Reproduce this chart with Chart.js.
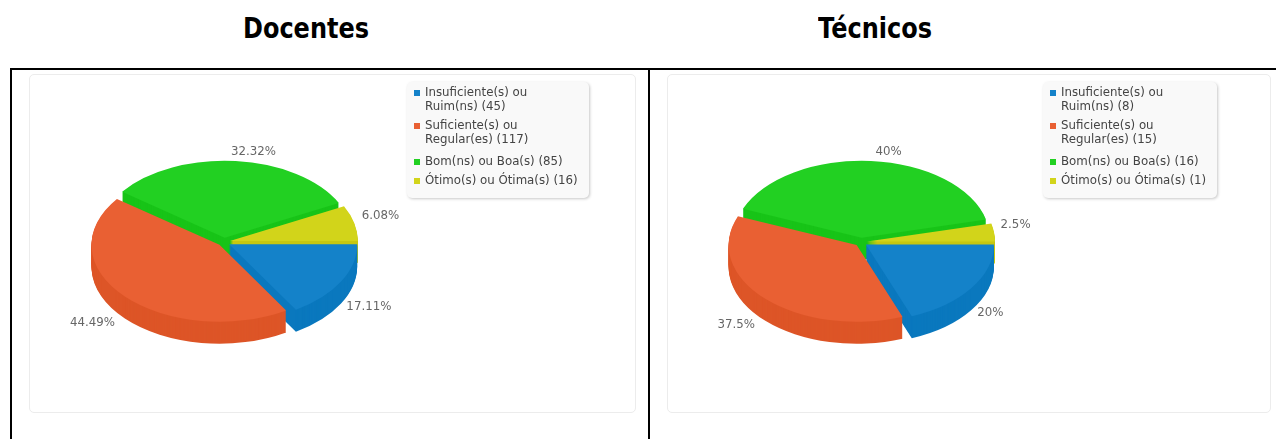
<!DOCTYPE html>
<html lang="pt">
<head>
<meta charset="utf-8">
<title>Docentes e Técnicos</title>
<script src="https://cdn.jsdelivr.net/npm/chart.js@4/dist/chart.umd.min.js"></script>
<style>
  html, body { margin: 0; padding: 0; background: #fff; overflow: hidden; }
  body { position: relative; width: 1276px; height: 439px; }
  .title {
    position: absolute; top: 15px; width: 300px; margin: 0; text-align: center;
    font: bold 24px "Comic Sans MS", "DejaVu Sans", sans-serif; color: #000;
    transform: scaleY(1.15);
  }
  .rule { position: absolute; background: #000; }
  .card {
    position: absolute; top: 74px; height: 339px; box-sizing: border-box;
    border: 1px solid #ececec; border-radius: 5px;
  }
  .card canvas { display: block; }
</style>
</head>
<body>
<h2 class="title" style="left:156px">Docentes</h2>
<h2 class="title" style="left:725px">Técnicos</h2>
<div class="rule" style="left:10px;top:68px;width:1266px;height:2px"></div>
<div class="rule" style="left:10px;top:68px;width:2px;height:371px"></div>
<div class="rule" style="left:648px;top:68px;width:2px;height:371px"></div>
<div class="card" style="left:29px;width:607px"><canvas id="docentes" width="605" height="337"></canvas></div>
<div class="card" style="left:667px;width:604px"><canvas id="tecnicos" width="602" height="337"></canvas></div>

<script>
const categories = [
  ['Insuficiente(s) ou', 'Ruim(ns)'],
  ['Suficiente(s) ou', 'Regular(es)'],
  ['Bom(ns) ou Boa(s)'],
  ['Ótimo(s) ou Ótima(s)'],
];
const docentesValues = [45, 117, 85, 16];
const tecnicosValues = [8, 15, 16, 1];
const topColors = ['#1482c9', '#e96033', '#22d022', '#d2d41a'];
const wallColors = ['#0a78be', '#dd5527', '#18c418', '#c6c710'];

const $ = id => document.getElementById(id);
const FONT = '11.8px "DejaVu Sans", sans-serif';

// the original's slices sit a few degrees further round than the data angle,
// more on the back half than on the front
function warp(angle, backDeg, frontDeg) {
  const s = Math.sin(angle);
  const deg = s < 0 ? backDeg : frontDeg;
  return angle - Math.min(1, Math.abs(s) * 6) * deg * Math.PI / 180;
}

function midAngle(arc) {
  return (arc.startAngle + arc.endAngle) / 2;
}

// --- Flattened pie with a stacked wall, painted back to front ---
const pie3d = {
  id: 'pie3d',
  beforeDatasetDraw(chart, args, opts) {
    const ctx = chart.ctx;
    const arcs = chart.getDatasetMeta(args.index).data.map((arc, i) => ({ arc, i }));
    arcs.sort((a, b) => Math.sin(midAngle(a.arc)) - Math.sin(midAngle(b.arc)));

    arcs.forEach(({ arc, i }) => {
      const mid = midAngle(arc);
      const { startAngle, endAngle, circumference, options } = arc;
      arc.startAngle = warp(startAngle, opts.warpBack, opts.warpFront);
      arc.endAngle = warp(endAngle, opts.warpBack, opts.warpFront);
      arc.circumference = Math.PI / 2; // keeps every slice at the same radius
      for (let d = opts.depth; d >= 0; d--) {
        ctx.save();
        ctx.translate(arc.x + Math.cos(mid) * opts.nudge, arc.y + d + Math.sin(mid) * opts.nudge);
        ctx.scale(1, opts.tilt);
        ctx.translate(-arc.x, -arc.y);
        arc.options = Object.assign({}, options, { backgroundColor: d === 0 ? topColors[i] : wallColors[i] });
        arc.draw(ctx);
        ctx.restore();
      }
      Object.assign(arc, { startAngle, endAngle, circumference, options });
    });
    return false;
  },
  afterDraw(chart, args, opts) {
    const ctx = chart.ctx;
    const values = chart.data.datasets[0].data;
    const total = values.reduce((a, b) => a + b, 0);

    // percent labels around the ellipse
    ctx.save();
    ctx.font = FONT;
    ctx.fillStyle = '#666';
    ctx.textBaseline = 'middle';
    chart.getDatasetMeta(0).data.forEach((arc, i) => {
      const mid = midAngle(arc);
      const c = Math.cos(mid), s = Math.sin(mid);
      const pct = parseFloat((values[i] / total * 100).toFixed(2)) + '%';
      const side = c > 0.3 ? 1 : (c < -0.3 ? -1 : 0);
      ctx.textAlign = side > 0 ? 'left' : (side < 0 ? 'right' : 'center');
      const x = arc.x + c * opts.labelRx + (side > 0 ? 15 : (side < 0 ? -11 : 8));
      const lift = s > 0 ? (c < 0 ? 31 : 24) : -11;
      ctx.fillText(pct, x, arc.y + s * opts.labelRy + lift);
    });
    ctx.restore();

    drawLegend(ctx, opts.legend, values);
  },
};

// --- Legend box ---
function drawLegend(ctx, box, values) {
  ctx.save();
  ctx.shadowColor = 'rgba(0,0,0,0.22)';
  ctx.shadowBlur = 3;
  ctx.shadowOffsetX = 1;
  ctx.shadowOffsetY = 1;
  ctx.fillStyle = '#f9f9f9';
  ctx.beginPath();
  ctx.roundRect(box.x, box.y, box.w, box.h, 5);
  ctx.fill();
  ctx.restore();

  ctx.save();
  ctx.font = FONT;
  ctx.textBaseline = 'middle';
  let top = box.y + 11;
  categories.forEach((lines, i) => {
    const y = lines.length === 1 ? top + 3 : top;
    ctx.fillStyle = topColors[i];
    ctx.fillRect(box.x + 7, y - 3, 6, 6);
    ctx.fillStyle = '#444';
    lines.forEach((line, n) => {
      const text = n === lines.length - 1 ? `${line} (${values[i]})` : line;
      ctx.fillText(text, box.x + 18, y + n * 14);
    });
    top += lines.length * 14 + 5;
  });
  ctx.restore();
}

// --- Charts ---
function makeChart(id, values, cx, cy, legend) {
  const canvas = $(id);
  return new Chart(canvas, {
    type: 'pie',
    data: {
      labels: categories.map(lines => lines.join(' ')),
      datasets: [{
        data: values,
        backgroundColor: topColors,
        borderWidth: 0,
        offset: 16,
      }],
    },
    plugins: [pie3d],
    options: {
      responsive: false,
      animation: false,
      rotation: 90,
      radius: 128,
      layout: { padding: { left: 0, top: 0, right: canvas.width - 2 * cx, bottom: canvas.height - 2 * cy } },
      plugins: {
        legend: { display: false },
        tooltip: { enabled: false },
        pie3d: { depth: 22, tilt: 0.6, nudge: 2, warpBack: 5, warpFront: 3, labelRx: 125, labelRy: 80, legend },
      },
    },
  });
}

makeChart('docentes', docentesValues, 194, 167, { x: 377, y: 7, w: 182, h: 116 });
makeChart('tecnicos', tecnicosValues, 193, 167, { x: 375, y: 7, w: 174, h: 116 });
</script>
</body>
</html>
